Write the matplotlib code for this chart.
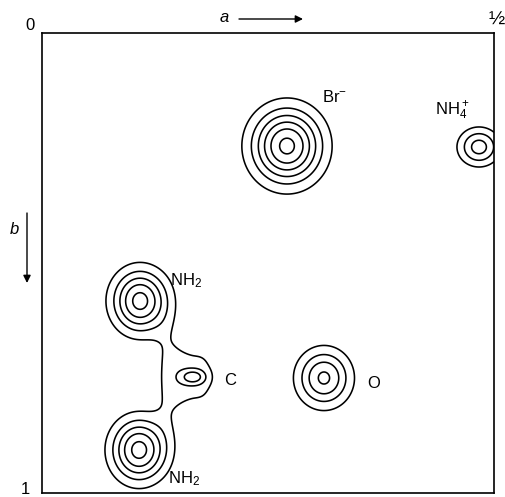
import numpy as np
import matplotlib
matplotlib.use('Agg')
import matplotlib.pyplot as plt

plt.rcParams['font.family'] = ['Liberation Sans', 'DejaVu Sans']
plt.rcParams['mathtext.fontset'] = 'custom'
plt.rcParams['mathtext.rm'] = 'Liberation Sans'
plt.rcParams['mathtext.it'] = 'Liberation Sans:italic'
plt.rcParams['mathtext.bf'] = 'Liberation Sans:bold'

# ---- data: electron-density peaks (fractional coords: x along a, y along b) ----
peak_names = ['Br-', 'NH4+', 'NH2 upper', 'C', 'C halo', 'NH2 lower', 'O', 'C-N bridge']
peak_x = [0.2710, 0.4834, 0.1084, 0.1670, 0.1670, 0.1073, 0.3119, 0.1383]
peak_y = [0.2457, 0.2478, 0.5826, 0.7478, 0.7478, 0.9065, 0.7500, 0.7457]
peak_height = [6.3, 3.45, 5.4, 2.4, 1.3, 5.4, 4.2, 1.0]
peak_wx = [0.0368, 0.0219, 0.0290, 0.0144, 0.0260, 0.0290, 0.0282, 0.0155]
peak_wy = [0.0770, 0.0391, 0.0646, 0.0174, 0.0696, 0.0646, 0.0591, 0.1300]
peak_shape = [2.0, 2.0, 2.0, 2.0, 3.0, 2.0, 2.0, 2.0]
contour_levels = [1, 2, 3, 4, 5, 6]

W, H, DPI = 506, 497, 100
fig = plt.figure(figsize=(W / DPI, H / DPI), dpi=DPI)
ax = fig.add_axes([42 / W, 1 - 493 / H, 452 / W, 460 / H])

gx = np.linspace(0, 0.5, 800)
gy = np.linspace(0, 1, 800)
X, Y = np.meshgrid(gx, gy)
Z = np.zeros_like(X)
for px, py, A, wx, wy, p in zip(peak_x, peak_y, peak_height, peak_wx, peak_wy, peak_shape):
    Z += A * np.exp(-(np.abs((X - px) / wx) ** p + np.abs((Y - py) / wy) ** p))

ax.contour(X, Y, Z, levels=contour_levels, colors='black', linewidths=1.15)
ax.set_xlim(0, 0.5)
ax.set_ylim(1, 0)
ax.set_xticks([])
ax.set_yticks([])
for s in ax.spines.values():
    s.set_linewidth(1.2)

fs = 12
ax.text(0.3097, 0.150, r'Br$^{-}$', fontsize=fs, ha='left', va='baseline')
ax.text(0.4347, 0.178, r'NH$_4^+$', fontsize=fs, ha='left', va='baseline')
ax.text(0.1416, 0.548, r'NH$_2$', fontsize=fs, ha='left', va='baseline')
ax.text(0.1394, 0.978, r'NH$_2$', fontsize=fs, ha='left', va='baseline')
ax.text(0.2013, 0.765, 'C', fontsize=fs, ha='left', va='baseline')
ax.text(0.3595, 0.772, 'O', fontsize=fs, ha='left', va='baseline')


def ftext(x, y, s, **kw):
    fig.text(x / W, 1 - y / H, s, ha='center', va='center', **kw)


ftext(30, 26, '0', fontsize=fs)
ftext(497, 20, '½', fontsize=14)
ftext(25, 489, '1', fontsize=fs)
ftext(224, 18, 'a', fontsize=fs, style='italic')
ftext(14, 230, 'b', fontsize=fs, style='italic')

arrow = dict(arrowstyle='-|>', color='black', lw=1.0, mutation_scale=11, shrinkA=0, shrinkB=0)
ax.annotate('', xy=(303, H - 19), xytext=(239, H - 19), xycoords='figure pixels',
            textcoords='figure pixels', arrowprops=arrow, annotation_clip=False)
ax.annotate('', xy=(27, H - 283), xytext=(27, H - 213), xycoords='figure pixels',
            textcoords='figure pixels', arrowprops=arrow, annotation_clip=False)

fig.savefig('out.png', dpi=DPI)
